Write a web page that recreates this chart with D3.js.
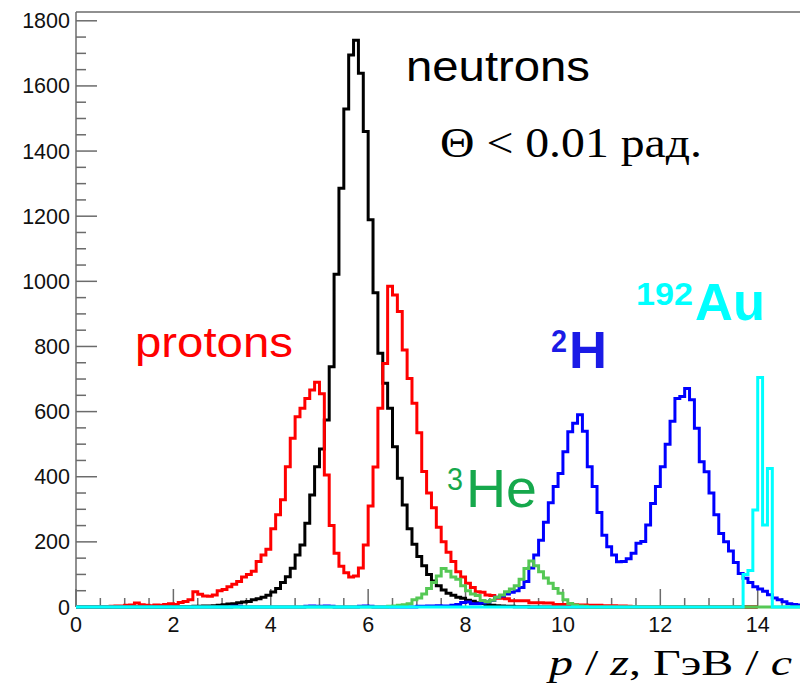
<!DOCTYPE html>
<html>
<head>
<meta charset="utf-8">
<script src="https://cdn.jsdelivr.net/npm/d3@7"></script>
<style>
  html, body { margin: 0; padding: 0; background: #fff; }
  svg { display: block; }
</style>
</head>
<body>
<svg id="chart" width="800" height="684"></svg>
<script>
// ---- Data: histogram bin contents, 150 bins of width 0.1 GeV/c from 0 to 15 ----
const binStart = 0;
const binWidth = 0.1;

const neutrons = [
  0,0,0,0,0,0,0,0,0,0, 0,0,0,0,0,0,0,0,0,0,
  1,1,1,1,2,2,3,3,4,5, 7,9,10,13,15,17,22,25,30,36,
  46,57,75,93,119,160,190,257,344,431, 485,574,738,1022,1286,1529,1695,1740,1639,1460,
  1189,965,779,687,610,492,395,313,240,193, 155,127,100,80,65,52,42,36,30,27,
  21,18,13,11,7,5,4,3,2,2, 1,1,1,0,0,0,0,0,0,0,
  0,0,0,0,0,0,0,0,0,0, 0,0,0,0,0,0,0,0,0,0,
  0,0,0,0,0,0,0,0,0,0, 0,0,0,0,0,0,0,0,0,0
];

const protons = [
  0,0,0,0,0,0,0,2,3,3, 5,6,12,7,5,4,6,5,8,10,
  8,14,17,22,47,39,34,33,37,50, 54,62,70,78,92,100,110,140,160,177,
  240,283,329,431,518,584,610,640,666,690, 655,405,250,165,125,105,92,95,120,190,
  310,430,610,748,985,958,907,789,702,626, 535,416,350,305,245,200,168,140,108,92,
  73,60,47,45,37,35,27,27,25,19, 19,19,19,13,13,13,12,12,8,8,
  8,7,7,6,6,5,5,5,4,4, 4,3,3,2,0,0,0,0,0,0,
  0,0,0,0,0,0,0,0,0,0, 0,0,0,0,0,0,0,0,0,0
];

const deuterons = [
  0,0,0,0,0,0,0,0,0,0, 0,0,0,0,0,0,0,0,0,0,
  0,0,0,0,0,0,0,0,0,0, 0,0,2,2,0,0,0,0,0,0,
  0,0,0,0,0,0,0,2,3,2, 2,3,2,0,0,0,0,0,2,3,
  2,0,0,0,0,0,0,0,0,0, 2,2,3,3,4,3,3,5,8,14,
  15,10,10,12,15,20,30,34,40,45, 50,60,78,120,160,205,260,320,370,410,
  477,538,564,590,540,431,370,290,220,185, 160,139,140,148,165,196,201,252,318,370,
  431,500,570,640,646,671,636,549,446,415, 350,283,226,200,172,137,103,88,75,62,
  55,48,38,28,22,16,10,8,6,5
];

const helium3 = [
  0,0,0,0,0,0,0,0,0,0, 0,0,0,0,0,0,0,0,0,0,
  0,0,0,0,0,0,0,0,0,0, 0,0,0,0,0,0,0,0,0,0,
  0,0,0,0,0,0,0,0,0,0, 0,0,0,0,0,0,0,0,0,0,
  0,0,0,0,2,3,5,7,10,22, 28,40,57,75,95,118,110,92,85,65,
  50,40,35,20,16,21,30,37,47,55, 65,85,118,141,127,108,89,73,57,42,
  22,11,6,3,2,0,0,0,0,0, 0,0,0,0,0,0,0,0,0,0,
  0,0,0,0,0,0,0,0,0,0, 0,0,0,0,0,0,0,0,0,0,
  0,0,0,0,0,0,0,0,0,0
];

const gold = [
  0,0,0,0,0,0,0,0,0,0, 0,0,0,0,0,0,0,0,0,0,
  0,0,0,0,0,0,0,0,0,0, 0,0,0,0,0,0,0,0,0,0,
  0,0,0,0,0,0,0,0,0,0, 0,0,0,0,0,0,0,0,0,0,
  0,0,0,0,0,0,0,0,0,0, 0,0,0,0,0,0,0,0,0,0,
  0,0,0,0,0,0,0,0,0,0, 0,0,0,0,0,0,0,0,0,0,
  0,0,0,0,0,0,0,0,0,0, 0,0,0,0,0,0,0,0,0,0,
  0,0,0,0,0,0,0,0,0,0, 0,0,0,0,0,0,0,100,112,298,
  705,252,425,0,0,0,0,0,0,0
];

const xTicks = [0, 2, 4, 6, 8, 10, 12, 14];
const yTicks = [0, 200, 400, 600, 800, 1000, 1200, 1400, 1600, 1800];

const series = [
  { name: "neutrons", values: neutrons, color: "#000000" },
  { name: "protons", values: protons, color: "#ff0000" },
  { name: "deuterons", values: deuterons, color: "#0000ff" },
  { name: "helium3", values: helium3, color: "#55c855" },
  { name: "gold", values: gold, color: "#00ffff" }
];

// ---- Layout ----
const svg = d3.select("#chart");
const x = d3.scaleLinear().domain([0, 15]).range([76, 806.4]);
const y = d3.scaleLinear().domain([0, 1827]).range([607, 12]);
const axisColor = "#6b6b6b";

// top frame line
svg.append("line").attr("x1", x(0)).attr("x2", x(15)).attr("y1", y(1827)).attr("y2", y(1827))
  .attr("stroke", axisColor).attr("stroke-width", 1.5);

// y axis (ticks inside)
const gy = svg.append("g").attr("transform", `translate(${x(0)},0)`);
gy.append("line").attr("x1", 0).attr("x2", 0).attr("y1", y(0)).attr("y2", y(1827))
  .attr("stroke", axisColor).attr("stroke-width", 1.5);
gy.selectAll("line.tick").data(d3.range(0, 1827, 50)).join("line")
  .attr("class", "tick")
  .attr("x1", 0).attr("x2", d => d % 200 === 0 ? 21 : 10)
  .attr("y1", d => y(d)).attr("y2", d => y(d))
  .attr("stroke", axisColor).attr("stroke-width", 1.5);
svg.append("g").selectAll("text").data(yTicks).join("text")
  .attr("x", 70).attr("y", d => y(d) + 7.5)
  .attr("text-anchor", "end")
  .attr("font-family", "'Liberation Sans', Arial, sans-serif")
  .attr("font-size", 21.5).attr("fill", "#111")
  .text(d => d);

// x axis (ticks inside, pointing up)
const gx = svg.append("g");
gx.append("line").attr("x1", x(0)).attr("x2", x(15)).attr("y1", y(0)).attr("y2", y(0))
  .attr("stroke", axisColor).attr("stroke-width", 1.5);
gx.selectAll("line.tick").data(d3.range(0, 15.01, 0.5)).join("line")
  .attr("class", "tick")
  .attr("x1", d => x(d)).attr("x2", d => x(d))
  .attr("y1", y(0)).attr("y2", d => y(0) - (Math.abs(d % 2) < 1e-9 ? 18 : 9))
  .attr("stroke", axisColor).attr("stroke-width", 1.5);
gx.selectAll("text").data(xTicks).join("text")
  .attr("x", d => x(d)).attr("y", 632)
  .attr("text-anchor", "middle")
  .attr("font-family", "'Liberation Sans', Arial, sans-serif")
  .attr("font-size", 21.5).attr("fill", "#111")
  .text(d => d);

// ---- Histograms (step outlines) ----
const line = d3.line().x(d => x(d[0])).y(d => y(d[1]));
series.forEach(s => {
  const pts = [];
  s.values.forEach((v, i) => {
    const lo = binStart + i * binWidth;
    pts.push([lo, v], [lo + binWidth, v]);
  });
  svg.append("path")
    .attr("d", line(pts))
    .attr("fill", "none")
    .attr("stroke", s.color)
    .attr("stroke-width", 3)
    .attr("stroke-linejoin", "miter");
});

// ---- Labels ----
const sans = "'Liberation Sans', Arial, sans-serif";
const serif = "'Liberation Serif', 'Times New Roman', serif";

function label(txt, xx, yy, size, color, opts = {}) {
  const t = svg.append("text").attr("x", xx).attr("y", yy)
    .attr("font-family", opts.family || sans)
    .attr("font-size", size).attr("fill", color)
    .attr("font-weight", opts.weight || "normal")
    .style("white-space", "pre")
    .text(txt);
  if (opts.len) t.attr("textLength", opts.len).attr("lengthAdjust", "spacingAndGlyphs");
  return t;
}

label("neutrons", 406, 81, 43, "#000", { len: 184 });
label("protons", 135, 357, 43, "#ff0000", { len: 158 });
label("Θ < 0.01 рад.", 440, 157, 42, "#000", { family: serif, len: 262 });

// 2H
label("2", 551, 352, 31, "#1a1ae6", { weight: "bold", len: 16 });
label("H", 569, 368, 52, "#1a1ae6", { weight: "bold", len: 38 });
// 192Au
label("192", 636, 305, 32, "#00ffff", { weight: "bold", len: 57 });
label("Au", 695, 320, 51, "#00ffff", { weight: "bold", len: 70 });
// 3He
label("3", 447, 490, 31, "#16a84c", { len: 16 });
label("He", 466, 507, 53, "#16a84c", { len: 71 });

// x-axis title
const title = svg.append("text").attr("x", 549).attr("y", 675)
  .attr("font-family", serif).attr("font-size", 35).attr("fill", "#000")
  .style("white-space", "pre")
  .attr("textLength", 243).attr("lengthAdjust", "spacingAndGlyphs");
title.append("tspan").attr("font-style", "italic").text("p");
title.append("tspan").text(" / ");
title.append("tspan").attr("font-style", "italic").text("z");
title.append("tspan").text(", ГэВ / ");
title.append("tspan").attr("font-style", "italic").text("c");
</script>
</body>
</html>
